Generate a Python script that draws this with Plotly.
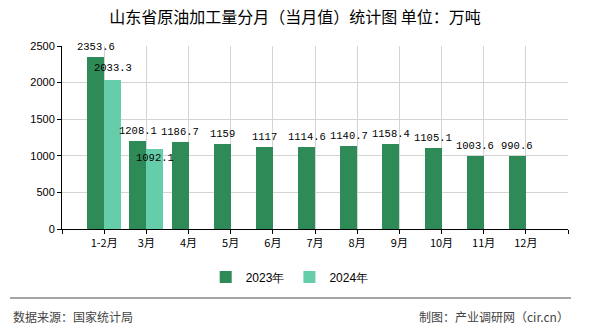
import plotly.graph_objects as go

categories = ["1-2月", "3月", "4月", "5月", "6月", "7月", "8月", "9月", "10月", "11月", "12月"]
values_2023 = [2353.6, 1208.1, 1186.7, 1159, 1117, 1114.6, 1140.7, 1158.4, 1105.1, 1003.6, 990.6]
values_2024 = [2033.3, 1092.1]
label_shift_2023 = [10] * len(values_2023)
label_shift_2024 = [12, -9]

W, H = 590, 330
L, R, T, B = 62, 22, 46, 101
pw, ph = W - L - R, H - T - B

def px_x(p):
    return (p - L) / pw

def px_y(p):
    return (H - B - p) / ph

C23 = "#2E8B57"
C24 = "#66CDAA"
CJK = "Noto Sans CJK SC"

xs23 = list(range(len(values_2023)))
xs24 = list(range(len(values_2024)))

fig = go.Figure()
fig.add_trace(go.Bar(x=xs23, y=values_2023, name="2023年", marker_color=C23,
                     width=0.4, offset=-0.4, marker_line_width=0))
fig.add_trace(go.Bar(x=xs24, y=values_2024, name="2024年", marker_color=C24,
                     width=0.4, offset=0, marker_line_width=0))

for x, v, s in zip(xs23, values_2023, label_shift_2023):
    fig.add_annotation(x=x - 0.2, y=v, text=f"{v:g}", showarrow=False, yshift=s,
                       font=dict(family="Liberation Mono", size=10.5, color="#000"))
for x, v, s in zip(xs24, values_2024, label_shift_2024):
    fig.add_annotation(x=x + 0.2, y=v, text=f"{v:g}", showarrow=False, yshift=s,
                       font=dict(family="Liberation Mono", size=10.5, color="#000"))

tickvals = list(range(-1, len(categories) + 1))
ticktext = [""] + categories + [""]

fig.update_layout(
    width=W, height=H,
    margin=dict(l=L, r=R, t=T, b=B),
    paper_bgcolor="white", plot_bgcolor="white",
    title=dict(text="山东省原油加工量分月（当月值）统计图 单位：万吨",
               x=0.5, xanchor="center", y=1 - 17 / H, yanchor="middle",
               font=dict(family=CJK, size=16, color="#000")),
    xaxis=dict(range=[-1, len(categories)], tickvals=tickvals, ticktext=ticktext,
               showgrid=True, gridcolor="#d4d4d4", gridwidth=1,
               showline=True, linecolor="#000", linewidth=1,
               ticks="outside", ticklen=4, tickcolor="#000",
               tickfont=dict(family=CJK, size=11, color="#000"), zeroline=False),
    yaxis=dict(range=[0, 2500], dtick=500, showgrid=True, gridcolor="#d4d4d4",
               gridwidth=1, showline=True, linecolor="#000", linewidth=1,
               ticks="outside", ticklen=4, tickcolor="#000",
               tickfont=dict(family="Liberation Sans", size=11, color="#000"),
               zeroline=False),
    showlegend=True,
    legend=dict(orientation="h", x=0.45, xanchor="center", y=px_y(277), yanchor="middle",
                font=dict(family="Liberation Sans", size=12, color="#000"),
                itemsizing="constant", traceorder="normal"),
    bargap=0,
)

fig.add_shape(type="line", xref="paper", yref="paper",
              x0=px_x(10), x1=px_x(571), y0=px_y(298), y1=px_y(298),
              line=dict(color="#888", width=1.5))
fig.add_annotation(xref="paper", yref="paper", x=px_x(11), y=px_y(316),
                   xanchor="left", yanchor="middle", showarrow=False,
                   text="数据来源：国家统计局",
                   font=dict(family=CJK, size=12, color="#444"))
fig.add_annotation(xref="paper", yref="paper", x=px_x(571), y=px_y(316),
                   xanchor="right", yanchor="middle", showarrow=False,
                   text="制图：产业调研网（cir.cn）",
                   font=dict(family=CJK, size=12, color="#444"))

fig.write_html("out.html")
